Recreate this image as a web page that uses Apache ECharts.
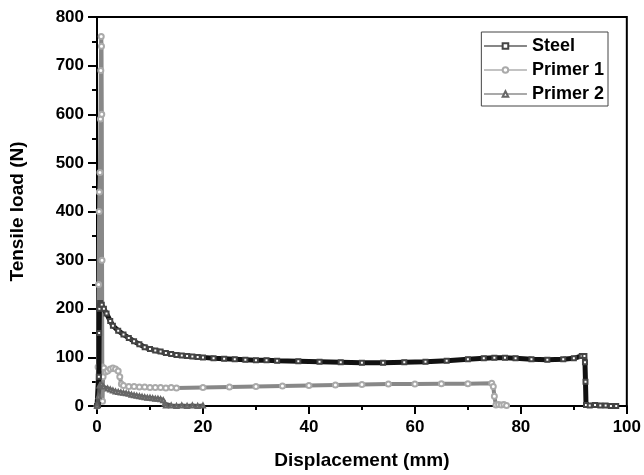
<!DOCTYPE html>
<html><head><meta charset="utf-8">
<script src="https://cdn.jsdelivr.net/npm/echarts@6/dist/echarts.min.js"></script>
<style>html,body{margin:0;padding:0;background:#fff}#c{width:644px;height:475px}</style>
</head><body><div id="c"></div>
<script>
const seriesNames = ['Steel', 'Primer 1', 'Primer 2'];
const xTicks = [0, 20, 40, 60, 80, 100];
const yTicks = [0, 100, 200, 300, 400, 500, 600, 700, 800];

const steel = [[0,0],[0.2,2],[0.35,60],[0.4,150],[0.45,200],[0.6,212],[0.9,208],[1.3,200],[1.8,190],[2.5,175],[3,165],[4,155],[5,147],[6,140],[7,133],[8,127],[9,121],[10,117],[11,114],[12,112],[13,109],[14,107],[15,105],[16,104],[17,103],[18,102],[19,101],[20,100],[22,98],[24,97],[26,96],[28,95],[30,94],[32,94],[34,93],[38,92],[42,91],[46,90],[50,89],[54,89],[58,90],[62,91],[66,93],[70,96],[73,98],[75,99],[77,99],[79,98],[82,96],[85,95],[88,96],[90,98],[91.5,103],[92,103],[92.1,90],[92.2,50],[92.3,2],[93,1],[94,2],[95,1],[96,1],[97,0],[98,0]];

const primer1 = [[0,0],[0.2,80],[0.3,250],[0.4,400],[0.45,440],[0.55,480],[0.65,590],[0.72,690],[0.8,760],[0.85,740],[0.9,600],[0.95,300],[1.0,80],[1.05,10],[1.15,60],[1.3,78],[1.6,70],[2,72],[2.5,76],[3,78],[3.5,76],[4,72],[4.3,60],[4.6,45],[5,42],[6,40],[7,40],[8,39],[9,39],[10,38],[11,38],[12,38],[13,37],[14,38],[15,37],[20,38],[25,39],[30,40],[35,41],[40,42],[45,43],[50,44],[55,45],[60,45],[65,46],[70,46],[74.5,47],[74.8,40],[75,20],[75.3,2],[75.8,3],[76.3,2],[76.8,3],[77.3,1]];

const primer2 = [[0,0],[0.3,20],[0.5,42],[0.8,45],[1.2,40],[2,36],[2.5,34],[3,32],[3.5,30],[4,29],[4.5,28],[5,27],[5.5,26],[6,25],[6.5,23],[7,22],[7.5,21],[8,20],[8.5,19],[9,18],[9.5,17],[10,17],[10.5,16],[11,15],[11.5,15],[12,14],[12.5,12],[12.8,5],[13,1],[14,1],[15,0],[16,1],[17,0],[18,1],[19,0],[20,1]];

const font = 'Liberation Sans, Arial, sans-serif';
const chart = echarts.init(document.getElementById('c'), null, {renderer:'canvas'});
chart.setOption({
  animation: false,
  backgroundColor: '#fff',
  grid: {left: 97, right: 16, top: 17, bottom: 68, show: true, borderColor: '#000', borderWidth: 2},
  legend: {
    orient: 'vertical', right: 36, top: 32, itemWidth: 43, itemHeight: 7, itemGap: 6,
    padding: [5, 4, 3, 2],
    borderColor: '#444', borderWidth: 1, backgroundColor: '#fff',
    lineStyle: {width: 1.2},
    textStyle: {fontFamily: font, fontWeight: 'bold', fontSize: 18, color: '#000', padding: [0,0,0,0]},
    data: seriesNames
  },
  xAxis: {
    type: 'value', min: xTicks[0], max: xTicks[xTicks.length-1], interval: 20,
    name: 'Displacement (mm)', nameLocation: 'middle', nameGap: 45,
    nameTextStyle: {fontFamily: font, fontWeight: 'bold', fontSize: 19, color: '#000'},
    axisLine: {show: true, lineStyle: {color: '#000', width: 2}},
    axisTick: {show: true, inside: false, length: 8, lineStyle: {color: '#000', width: 2}},
    minorTick: {show: true, splitNumber: 2, length: 4, lineStyle: {color: '#000', width: 2}},
    axisLabel: {fontFamily: font, fontWeight: 'bold', fontSize: 17, color: '#000', margin: 13},
    splitLine: {show: false}
  },
  yAxis: {
    type: 'value', min: yTicks[0], max: yTicks[yTicks.length-1], interval: 100,
    name: 'Tensile load (N)', nameLocation: 'middle', nameGap: 70,
    nameTextStyle: {fontFamily: font, fontWeight: 'bold', fontSize: 19, color: '#000'},
    axisLine: {show: true, lineStyle: {color: '#000', width: 2}},
    axisTick: {show: true, inside: false, length: 9, lineStyle: {color: '#000', width: 2}},
    minorTick: {show: true, splitNumber: 2, length: 5, lineStyle: {color: '#000', width: 2}},
    axisLabel: {fontFamily: font, fontWeight: 'bold', fontSize: 17, color: '#000', margin: 13},
    splitLine: {show: false}
  },
  series: [
    {name: seriesNames[0], type: 'line', data: steel, symbol: 'emptyRect', symbolSize: 4,
     color: '#333', lineStyle: {color: '#111', width: 5}, itemStyle: {color: '#444', borderWidth: 1}, z: 3},
    {name: seriesNames[1], type: 'line', data: primer1, symbol: 'emptyCircle', symbolSize: 5,
     color: '#999', lineStyle: {color: '#888', width: 4}, itemStyle: {color: '#aaa', borderWidth: 1}, z: 2},
    {name: seriesNames[2], type: 'line', data: primer2, symbol: 'emptyTriangle', symbolSize: 4,
     color: '#666', lineStyle: {color: '#555', width: 4}, itemStyle: {color: '#666', borderWidth: 1}, z: 4}
  ]
});
</script></body></html>
